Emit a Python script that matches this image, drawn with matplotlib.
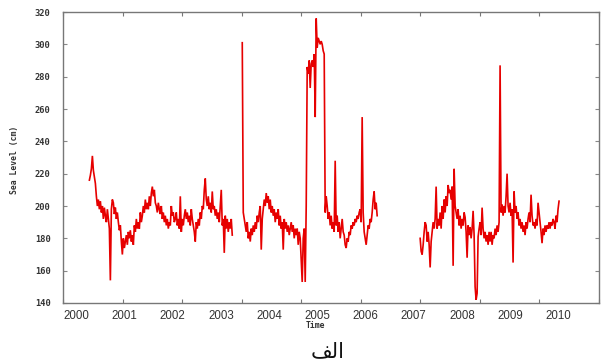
import numpy as np
import matplotlib
matplotlib.use("Agg")
import matplotlib.pyplot as plt

# ---- data (sea level, cm), three recorded segments ----
seg1_span = (2000.443, 2002.842)
seg1_vals = [216, 219, 223, 231, 222, 218, 214, 206, 200, 204,
             198, 203, 196, 200, 192, 199, 194, 190, 198, 192,
             186, 154, 198, 204, 202, 195, 199, 192, 196, 190,
             185, 188, 178, 170, 180, 174, 178, 182, 176, 184,
             180, 185, 178, 182, 176, 188, 184, 192, 186, 190,
             186, 196, 190, 194, 200, 196, 204, 198, 202, 198,
             206, 200, 208, 212, 206, 210, 202, 200, 196, 202,
             198, 195, 200, 192, 196, 190, 194, 188, 192, 186,
             190, 188, 200, 194, 196, 190, 192, 196, 188, 192,
             186, 206, 184, 192, 188, 194, 198, 192, 196, 190,
             194, 188, 198, 192, 188, 184, 178, 190, 186, 192,
             188, 196, 192, 200, 198, 210, 217, 204, 200, 206,
             198, 202, 196, 209, 198, 200, 194, 198, 192, 196,
             190, 200, 210, 188, 192, 171, 194, 186, 192, 184,
             190, 186, 192, 182]

seg2_span = (2003.010, 2005.275)
seg2_vals = [301, 196, 192, 188, 184, 190, 180, 184, 178, 186,
             182, 188, 184, 190, 186, 194, 190, 196, 200, 173,
             192, 198, 204, 200, 208, 202, 206, 198, 204, 196,
             200, 194, 198, 190, 196, 192, 198, 188, 194, 186,
             190, 173, 192, 186, 190, 184, 188, 182, 186, 190,
             184, 188, 180, 186, 182, 186, 176, 184, 180, 166,
             153, 180, 186, 153, 200, 286, 282, 290, 273, 288,
             290, 286, 294, 255, 316, 298, 304, 302, 300, 302,
             300, 296, 294, 196, 206, 200, 192, 196, 188, 194,
             186, 190, 184, 228, 188, 194, 184, 190, 180, 186,
             192, 184, 182, 176, 174, 180, 178, 184, 182, 188,
             186, 190, 188, 192, 190, 194, 192, 196, 198, 190,
             255, 196, 184, 180, 176, 182, 188, 186, 192, 190,
             196, 204, 209, 198, 202, 194]

seg3_span = (2005.997, 2008.329)
seg3_vals = [180, 172, 170, 176, 184, 190, 188, 178, 184, 176,
             162, 178, 184, 190, 186, 192, 212, 186, 192, 188,
             196, 186, 200, 192, 204, 196, 206, 200, 213, 208,
             210, 204, 212, 163, 223, 200, 196, 192, 198, 188,
             194, 186, 192, 188, 196, 193, 184, 168, 188, 182,
             187, 180, 186, 197, 182, 150, 142, 146, 181, 186,
             190, 182, 199, 186, 180, 184, 178, 182, 176, 184,
             178, 184, 176, 182, 180, 186, 182, 188, 184, 190,
             287, 196, 201, 194, 200, 196, 206, 220, 200, 196,
             202, 194, 198, 165, 209, 196, 200, 192, 196, 188,
             192, 186, 190, 184, 188, 182, 190, 186, 192, 196,
             190, 207, 194, 188, 190, 186, 192, 188, 202, 196,
             190, 184, 177, 186, 182, 188, 184, 188, 186, 190,
             186, 190, 188, 192, 190, 186, 194, 190, 198, 203]

year_ticks = list(range(2000, 2010))
year_labels = [str(y) for y in range(2000, 2011)]
y_ticks = list(range(140, 321, 20))

fig = plt.figure(figsize=(6.14, 3.63), dpi=100)
ax = fig.add_axes([63/614, 1-303/363, (599-63)/614, (303-12)/363])

for span, vals in [(seg1_span, seg1_vals), (seg2_span, seg2_vals), (seg3_span, seg3_vals)]:
    t = np.linspace(span[0], span[1], len(vals))
    ax.plot(t, vals, color='#e60000', lw=1.2, solid_joinstyle='miter')

ax.set_xlim(2000, 2009)
ax.set_ylim(140, 320)

for s in ax.spines.values():
    s.set_color('#777777')
    s.set_linewidth(1.0)

# tick marks at each year (no labels)
ax.set_xticks(year_ticks)
ax.set_xticklabels([])
ax.tick_params(axis='x', which='major', direction='in', length=3, color='#777777',
               top=True, bottom=True)
# year labels (as drawn in the original, evenly spread)
label_pos = [2000.225 + 0.809 * k for k in range(len(year_labels))]
ax.set_xticks(label_pos, minor=True)
ax.set_xticklabels(year_labels, minor=True)
ax.tick_params(axis='x', which='minor', length=0, labelsize=8.3, pad=5,
               labelcolor='#333333')
for lab in ax.get_xticklabels(minor=True):
    lab.set_fontfamily('Liberation Sans')

ax.set_yticks(y_ticks)
ax.tick_params(axis='y', direction='in', length=3, color='#888888', left=True,
               right=True, labelsize=6.3, labelcolor='#333333', pad=9)
for lab in ax.get_yticklabels():
    lab.set_fontfamily('DejaVu Sans Mono')
    lab.set_fontweight('bold')

fig.text(15/614, 1-160/363, 'Sea Level (cm)', rotation=90, ha='center', va='center',
         fontsize=5.8, fontweight='bold', family='DejaVu Sans Mono', color='#333333')
fig.text(315/614, 1-326/363, 'Time', ha='center', va='center',
         fontsize=5.8, fontweight='bold', family='DejaVu Sans Mono', color='#333333')
fig.text(328/614, 1-351/363, '\ufed2\ufedf\ufe8d', ha='center', va='center',
         fontsize=15, family='DejaVu Sans', color='#111111')

fig.savefig('out.png', dpi=100)
